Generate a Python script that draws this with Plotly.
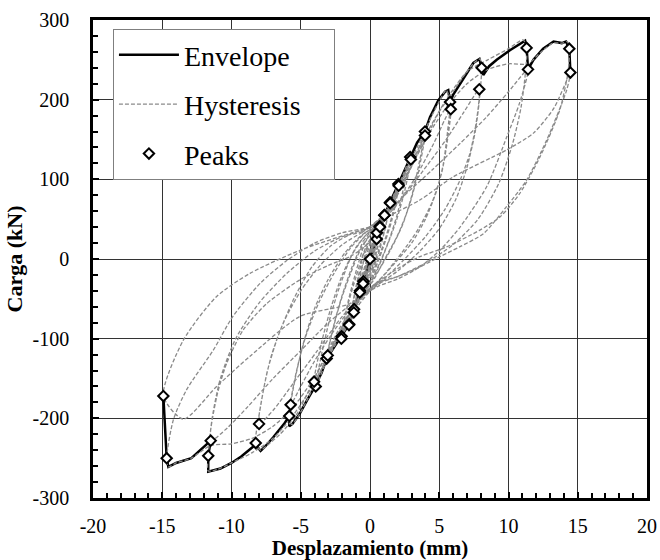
import plotly.graph_objects as go

# Backbone (envelope) curve: negative end -> origin -> positive end
envelope = [
    (-14.92, -172), (-14.68, -250), (-14.56, -261), (-14.0, -256), (-12.9, -250),
    (-12.0, -236), (-11.5, -228), (-11.68, -247), (-11.68, -267), (-10.8, -263),
    (-10.0, -256), (-9.3, -248), (-8.6, -238), (-8.25, -233), (-7.9, -241),
    (-7.6, -236), (-7.0, -224), (-6.2, -207), (-5.83, -197), (-5.83, -210),
    (-5.6, -207), (-5.1, -195), (-4.5, -176), (-3.97, -160), (-3.5, -143),
    (-3.13, -125), (-2.6, -111), (-2.05, -97), (-1.5, -82), (-1.15, -63),
    (-0.72, -40), (-0.48, -28), (0.0, 0), (0.48, 25), (0.70, 41), (1.03, 55),
    (1.44, 71), (2.05, 94), (2.5, 112), (2.90, 128), (3.4, 146), (3.97, 160),
    (4.33, 178), (4.93, 199), (5.42, 210), (5.65, 212), (5.78, 197), (6.0, 206),
    (6.74, 227), (7.46, 246), (7.9, 251), (8.06, 240), (8.18, 231), (8.6, 242),
    (9.15, 250), (10.1, 262), (11.07, 273), (11.2, 274), (11.31, 265), (11.41, 238),
    (11.8, 250), (12.5, 264), (13.25, 273), (13.85, 271), (14.15, 273), (14.39, 264),
    (14.47, 234),
]

# Peak load of every cycle (first and second cycle at each amplitude)
peaks_x = [0.0, 0.48, 0.50, 0.70, 0.72, 1.03, 1.05, 1.44, 1.46, 2.05, 2.07, 2.90, 2.95,
           3.97, 3.97, 5.78, 5.83, 8.06, 7.89, 11.31, 11.41, 14.39, 14.47,
           -0.48, -0.50, -0.72, -0.74, -1.15, -1.17, -1.50, -1.52, -2.05, -2.07,
           -3.13, -3.05, -3.92, -4.04, -5.83, -5.73, -8.25, -8.01, -11.68, -11.50,
           -14.68, -14.92]
peaks_y = [0, 25, 33, 41, 40, 55, 55, 71, 70, 94, 92, 128, 125,
           160, 155, 197, 188, 240, 213, 265, 238, 264, 234,
           -28, -31, -40, -42, -63, -67, -82, -83, -97, -100,
           -125, -121, -160, -154, -197, -183, -231, -207, -247, -228,
           -250, -172]

# Load-displacement history, one list per amplitude level
loop_01 = [(0, 0), (0.25, 14), (0.48, 25), (0.32, 12), (0.1, -2), (-0.2, -14), (-0.48, -28),
           (-0.3, -14), (-0.1, 0), (0.2, 16), (0.50, 33), (0.3, 16), (0.05, -4), (-0.25, -18),
           (-0.50, -31), (-0.3, -13), (-0.05, 5)]
loop_02 = [(-0.05, 5), (0.3, 22), (0.70, 41), (0.5, 22), (0.2, 2), (-0.2, -18), (-0.72, -40),
           (-0.45, -18), (-0.15, 3), (0.3, 25), (0.72, 40), (0.45, 18), (0.1, -6), (-0.35, -25),
           (-0.74, -42), (-0.45, -20), (-0.1, 8)]
loop_03 = [(-0.1, 8), (0.5, 32), (1.03, 55), (0.75, 30), (0.35, 5), (-0.3, -25), (-1.15, -63),
           (-0.8, -35), (-0.3, -5), (0.4, 28), (1.05, 55), (0.7, 25), (0.2, -8), (-0.5, -35),
           (-1.17, -67), (-0.8, -30), (-0.3, 10)]
loop_04 = [(-0.3, 10), (0.6, 38), (1.44, 71), (1.1, 40), (0.6, 10), (0, -18), (-0.6, -40),
           (-1.5, -82), (-1.1, -45), (-0.5, -5), (0.2, 25), (0.8, 45), (1.46, 70), (1.05, 35),
           (0.5, 0), (-0.2, -28), (-0.8, -50), (-1.52, -83), (-1.1, -42), (-0.5, 5)]
loop_05 = [(-0.5, 5), (0.3, 32), (1.2, 58), (2.05, 94), (1.6, 55), (1.0, 20), (0.3, -12),
           (-0.5, -40), (-1.2, -65), (-2.05, -97), (-1.6, -58), (-1.0, -22), (-0.3, 15),
           (0.5, 38), (1.3, 60), (2.07, 92), (1.6, 50), (0.9, 12), (0.2, -20), (-0.6, -45),
           (-1.3, -68), (-2.07, -100), (-1.6, -55), (-1.0, -15), (-0.4, 20)]
loop_06 = [(-0.4, 20), (0.5, 42), (1.5, 72), (2.3, 102), (2.90, 128), (2.5, 95), (2.0, 58),
           (1.4, 25), (0.7, -5), (0.0, -30), (-1.0, -58), (-2.0, -92), (-3.13, -125),
           (-2.7, -90), (-2.1, -52), (-1.4, -18), (-0.6, 15), (0.3, 38), (1.3, 62), (2.2, 92),
           (2.95, 125), (2.5, 85), (1.9, 48), (1.2, 15), (0.4, -18), (-0.5, -40), (-1.4, -66),
           (-2.3, -95), (-3.05, -121), (-2.6, -82), (-2.0, -45), (-1.3, -10), (-0.5, 22)]
loop_07 = [(-0.5, 22), (0.5, 45), (1.6, 75), (2.7, 115), (3.4, 140), (3.97, 160), (3.6, 125),
           (3.1, 85), (2.4, 45), (1.5, 12), (0.6, -15), (-0.3, -38), (-1.3, -65), (-2.4, -100),
           (-3.3, -135), (-3.92, -160), (-3.5, -120), (-2.9, -75), (-2.2, -35), (-1.3, 5),
           (-0.4, 28), (0.5, 42), (1.6, 68), (2.7, 105), (3.5, 135), (3.97, 155), (3.5, 110),
           (2.8, 65), (2.0, 30), (1.0, -2), (0.2, -28), (-0.6, -45), (-1.6, -72), (-2.7, -108),
           (-3.5, -138), (-4.04, -154), (-3.5, -105), (-2.8, -60), (-2.0, -20), (-1.0, 15),
           (-0.3, 30)]
loop_08 = [(-0.3, 30), (0.8, 50), (2.0, 85), (3.2, 125), (4.2, 170), (5.0, 198), (5.5, 212),
           (5.78, 197), (5.6, 160), (5.3, 120), (4.8, 85), (4.0, 50), (3.0, 20), (1.8, -5),
           (0.6, -28), (-0.5, -45), (-1.8, -80), (-3.0, -120), (-4.2, -165), (-5.1, -195),
           (-5.66, -208), (-5.83, -197), (-5.4, -150), (-4.8, -105), (-4.0, -62), (-3.0, -25),
           (-1.8, 8), (-0.6, 30), (0.5, 42), (1.8, 65), (3.2, 100), (4.6, 145), (5.4, 175),
           (5.83, 188), (5.6, 150), (5.2, 110), (4.5, 72), (3.5, 38), (2.3, 8), (1.0, -20),
           (0.0, -38), (-1.2, -58), (-2.6, -90), (-4.0, -128), (-5.0, -160), (-5.73, -183),
           (-5.3, -140), (-4.6, -95), (-3.7, -55), (-2.6, -18), (-1.4, 14), (-0.4, 32)]
loop_09 = [(-0.4, 32), (1.0, 55), (2.5, 100), (4.0, 150), (5.0, 185), (5.8, 205), (6.7, 228),
           (7.5, 246), (7.95, 251), (8.06, 240), (7.9, 200), (7.6, 160), (7.0, 115), (6.2, 75),
           (5.0, 38), (3.6, 10), (2.0, -15), (0.6, -32), (-0.8, -52), (-2.3, -90), (-4.0, -150),
           (-5.3, -195), (-6.5, -220), (-7.5, -235), (-7.9, -240), (-8.25, -231), (-7.9, -185),
           (-7.4, -140), (-6.6, -95), (-5.5, -50), (-4.2, -10), (-2.8, 17), (-1.3, 32),
           (0.0, 40), (2.0, 70), (3.8, 110), (5.5, 150), (6.8, 185), (7.89, 213), (7.82, 191),
           (7.58, 162), (7.22, 133), (6.5, 99), (5.4, 62), (4.0, 28), (2.5, 0), (1.0, -25),
           (-0.3, -42), (-2.0, -72), (-3.8, -115), (-5.5, -155), (-6.9, -188), (-8.01, -207),
           (-7.7, -165), (-7.1, -120), (-6.2, -78), (-5.0, -40), (-3.6, -8), (-2.0, 18),
           (-0.6, 33)]
loop_10 = [(-0.6, 33), (1.0, 55), (2.5, 105), (4.0, 155), (5.5, 200), (7.0, 235), (8.5, 250),
           (10.0, 264), (11.05, 275), (11.31, 265), (11.2, 230), (10.9, 190), (10.3, 145),
           (9.3, 95), (7.8, 50), (6.0, 18), (4.0, -5), (2.0, -22), (0.5, -32), (-1.0, -62),
           (-2.5, -105), (-4.0, -155), (-5.5, -195), (-7.0, -225), (-8.5, -243), (-10.0, -256),
           (-11.0, -264), (-11.68, -266), (-11.68, -247), (-11.4, -200), (-10.8, -150),
           (-9.7, -100), (-8.0, -55), (-6.0, -18), (-4.0, 10), (-2.0, 28), (-0.5, 35),
           (1.0, 55), (2.5, 80), (4.5, 112), (6.5, 145), (8.4, 178), (10.0, 210), (11.41, 238),
           (10.8, 196), (9.87, 153), (8.43, 91), (6.5, 40), (5.05, 11), (3.6, -10), (2.0, -25),
           (0.5, -35), (-1.0, -52), (-3.0, -80), (-5.0, -115), (-7.0, -150), (-8.8, -185),
           (-10.3, -212), (-11.5, -228), (-11.07, -173), (-10.35, -131), (-9.15, -89),
           (-7.46, -56), (-5.05, -26), (-3.0, -8), (-1.44, 3), (-0.4, 15)]
loop_11 = [(-0.4, 15), (1.0, 48), (2.5, 100), (4.0, 150), (5.5, 190), (7.0, 220), (8.5, 238),
           (10.0, 245), (11.4, 245), (12.3, 259), (13.2, 271), (13.9, 271), (14.25, 273),
           (14.39, 264), (14.3, 235), (13.7, 187), (12.27, 128), (10.8, 82), (9.4, 53),
           (7.9, 36), (5.5, 15), (3.6, 3), (2.0, -12), (0.5, -30), (-1.0, -58), (-2.5, -100),
           (-4.0, -148), (-5.5, -185), (-7.0, -210), (-8.5, -225), (-10.0, -232), (-11.5, -234),
           (-12.9, -250), (-14.0, -256), (-14.56, -261), (-14.68, -250), (-14.2, -202),
           (-13.24, -164), (-11.3, -114), (-9.9, -72), (-7.9, -30), (-6.0, -2), (-4.0, 20),
           (-2.0, 33), (-0.5, 38), (0.3, 42), (1.5, 55), (3.6, 74), (6.0, 103), (9.87, 137),
           (11.8, 158), (13.3, 190), (14.47, 234), (14.2, 212), (12.75, 149), (11.3, 99),
           (9.87, 66), (8.2, 32), (6.5, 15.5), (5.05, 3), (3.6, -10), (2.0, -22), (0.5, -30),
           (-1.44, -56), (-5.05, -72), (-8.66, -122), (-11.07, -160), (-13.48, -201),
           (-14.92, -172), (-13.48, -102), (-11.07, -47), (-8.66, -18), (-5.05, 11),
           (-1.44, 32), (0.3, 40)]

loops = [loop_01, loop_02, loop_03, loop_04, loop_05, loop_06,
         loop_07, loop_08, loop_09, loop_10, loop_11]

x_ticks = [-20, -15, -10, -5, 0, 5, 10, 15, 20]
y_ticks = [-300, -200, -100, 0, 100, 200, 300]

SERIF = "Liberation Serif"
NBSP = "\u00a0"

fig = go.Figure()

fig.add_trace(go.Scatter(
    x=[p[0] for p in envelope], y=[p[1] for p in envelope],
    mode="lines", name="Envelope", legendgroup="env",
    line=dict(color="black", width=2.5),
))

for i, loop in enumerate(loops):
    fig.add_trace(go.Scatter(
        x=[p[0] for p in loop], y=[p[1] for p in loop],
        mode="lines", name="Hysteresis" + NBSP * 4, legendgroup="hys",
        showlegend=(i == 0),
        line=dict(color="#8a8a8a", width=1.3, dash="4px,2px",
                  shape="spline", smoothing=0.7),
    ))

fig.add_trace(go.Scatter(
    x=peaks_x, y=peaks_y, mode="markers", name="Peaks", legendgroup="pk",
    marker=dict(symbol="diamond", size=8, color="white",
                line=dict(color="black", width=2)),
))

axis_common = dict(
    showgrid=True, gridcolor="#333333", gridwidth=1,
    zeroline=False, showline=True, linecolor="black", linewidth=2.5,
    mirror=True, ticks="inside", ticklen=6, tickwidth=1.5, tickcolor="black",
    tickfont=dict(family=SERIF, size=20, color="black"),
    automargin=False,
)

fig.update_xaxes(
    **axis_common, range=[-20, 20], tickvals=x_ticks,
    ticktext=[str(v) for v in x_ticks], ticklabelstandoff=8,
    minor=dict(dtick=1, tick0=0, ticks="inside", ticklen=5, tickcolor="black",
               tickwidth=1.5, showgrid=False),
    title=dict(text="Desplazamiento (mm)", standoff=10,
               font=dict(family=SERIF, size=21, color="black", weight="bold")),
)
fig.update_yaxes(
    **axis_common, range=[-300, 300], tickvals=y_ticks,
    ticktext=[str(v) for v in y_ticks], ticklabelstandoff=17,
    minor=dict(dtick=20, tick0=0, ticks="inside", ticklen=5, tickcolor="black",
               tickwidth=1.5, showgrid=False),
    title=dict(text="Carga (kN)", standoff=4,
               font=dict(family=SERIF, size=22, color="black", weight="bold")),
)

fig.update_layout(
    width=660, height=560,
    margin=dict(l=93, r=13, t=20, b=62),
    paper_bgcolor="white", plot_bgcolor="white",
    showlegend=True,
    legend=dict(
        x=0.036, y=0.981, xanchor="left", yanchor="top",
        bgcolor="white", bordercolor="#7f7f7f", borderwidth=1,
        font=dict(family=SERIF, size=28, color="black"),
        tracegroupgap=10, itemwidth=60,
    ),
)

fig.write_html("out.html")
